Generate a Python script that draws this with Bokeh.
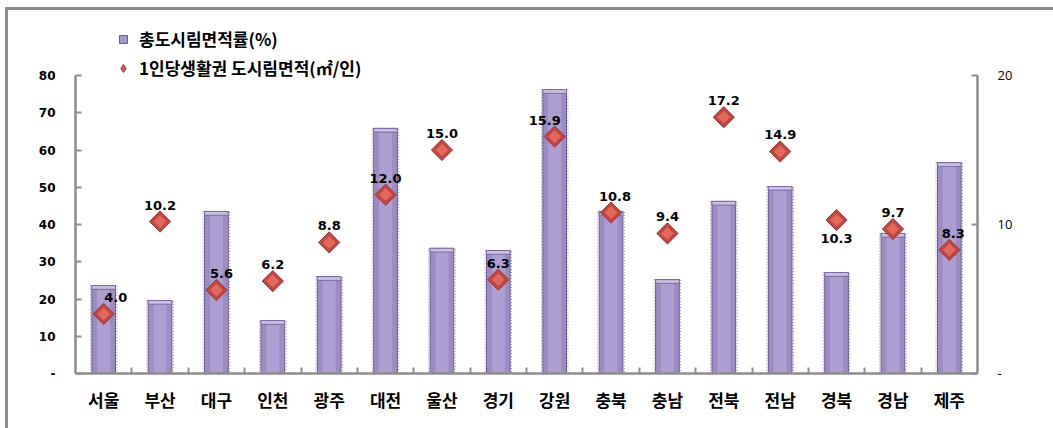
from bokeh.plotting import figure
from bokeh.models import (ColumnDataSource, Range1d, LinearAxis, FixedTicker,
                          Legend, LegendItem)
from bokeh.layouts import column
from bokeh.embed import file_html
from bokeh.resources import INLINE
from bokeh.core.properties import value
import math

# 시도별 도시림 현황
regions = ["서울", "부산", "대구", "인천", "광주", "대전", "울산", "경기",
           "강원", "충북", "충남", "전북", "전남", "경북", "경남", "제주"]
forest_ratio = [23.6, 19.6, 43.5, 14.2, 26.0, 65.8, 33.6, 33.0,
                76.2, 43.5, 25.2, 46.2, 50.2, 27.1, 37.6, 56.6]   # 총도시림면적률(%)
per_capita = [4.0, 10.2, 5.6, 6.2, 8.8, 12.0, 15.0, 6.3,
              15.9, 10.8, 9.4, 17.2, 14.9, 10.3, 9.7, 8.3]        # 1인당 생활권 도시림면적(㎡/인)
left_ticks = [0, 10, 20, 30, 40, 50, 60, 70, 80]
right_ticks = [0, 10, 20]

KR = "Noto Sans CJK KR"
NUM = "DejaVu Sans"
AXIS_GREY = "#8c8c8c"

n = len(regions)
xs = list(range(1, n + 1))
cap = 1.0  # bevel height on bar tops, in % units

# the plot frame reaches above the axes so the legend sits inside it
headroom = 358 / 298
left_max, right_max = 80, 20

# label placement: above the marker except where it would collide
below = {"경북"}
nudge = {"서울": 12, "강원": -10, "대구": 5, "충북": 4, "제주": 4}
lbl_dy = [14 if r in below else -12 for r in regions]
lbl_base = ["top" if r in below else "bottom" for r in regions]
lbl_dx = [nudge.get(r, 0) for r in regions]

src = ColumnDataSource(dict(
    x=xs, ratio=forest_ratio, body_top=[v - cap for v in forest_ratio],
    cap_bottom=[v - cap for v in forest_ratio], pc=per_capita,
    pc_txt=[f"{v:.1f}" for v in per_capita],
    dy=lbl_dy, dx=lbl_dx, base=lbl_base,
))

p = figure(width=1045, height=418, output_backend="svg", toolbar_location=None,
           x_range=Range1d(0.5, n + 0.5),
           y_range=Range1d(0, left_max * headroom),
           min_border_left=67, min_border_right=76, min_border_top=5,
           min_border_bottom=55)
p.outline_line_color = None
p.grid.visible = False
p.background_fill_color = "white"
p.border_fill_color = "white"
p.extra_y_ranges = {"right": Range1d(0, right_max * headroom)}

# bars: dotted shadow, outlined body, lighter centre strip and bevelled top
bw = 0.42
p.vbar(x="x", top="ratio", bottom=0, width=bw + 0.05, source=src,
       fill_color=None, line_color="#333333", line_alpha=0.55,
       line_dash="1 2", line_width=1)
p.vbar(x="x", top="ratio", bottom=0, width=bw, source=src,
       fill_color="#9d8cc4", line_color="#6a5a93", line_width=1)
p.vbar(x="x", top="body_top", bottom=0, width=bw * 0.55, source=src,
       fill_color="#ad9fd1", line_color=None)
p.vbar(x="x", top="ratio", bottom="cap_bottom", width=bw, source=src,
       fill_color="#cbc0e5", line_color="#7a6aa3", line_width=1)

# diamonds on the right axis
p.scatter(x="x", y="pc", source=src, y_range_name="right", marker="square",
          angle=math.pi / 4, size=15, fill_color="#c4453c",
          line_color="#8e3a48", line_width=1)
p.scatter(x="x", y="pc", source=src, y_range_name="right", marker="square",
          angle=math.pi / 4, size=9, fill_color="#e2695c", line_color=None)

p.text(x="x", y="pc", text="pc_txt", source=src, y_range_name="right",
       x_offset="dx", y_offset="dy", text_baseline="base", text_align="center",
       text_font=value(NUM), text_font_style="bold", text_font_size="13px",
       text_color="black")

# axes
xa = p.xaxis[0]
xa.ticker = FixedTicker(ticks=xs, minor_ticks=[x + 0.5 for x in xs[:-1]])
xa.major_label_overrides = {x: r for x, r in zip(xs, regions)}
xa.major_tick_line_color = None
xa.minor_tick_in = 6
xa.minor_tick_out = 0
xa.minor_tick_line_color = AXIS_GREY
xa.minor_tick_line_width = 2
xa.axis_line_color = AXIS_GREY
xa.axis_line_width = 2.5
xa.major_label_text_font = KR
xa.major_label_text_font_style = "bold"
xa.major_label_text_font_size = "17px"
xa.major_label_text_color = "black"
xa.major_label_standoff = 7

ya = p.yaxis[0]
ya.ticker = FixedTicker(ticks=left_ticks)
ya.bounds = (0, left_max)
ya.major_label_overrides = {0: "-"}
ya.major_tick_in = 6
ya.major_tick_out = 0
ya.minor_tick_line_color = None
ya.major_tick_line_color = AXIS_GREY
ya.major_tick_line_width = 2
ya.axis_line_color = AXIS_GREY
ya.axis_line_width = 2.5
ya.major_label_text_font = NUM
ya.major_label_text_font_style = "bold"
ya.major_label_text_font_size = "12px"
ya.major_label_text_color = "black"
ya.major_label_standoff = 20

ra = LinearAxis(y_range_name="right", ticker=FixedTicker(ticks=right_ticks),
                bounds=(0, right_max))
ra.major_label_overrides = {0: "-"}
ra.major_tick_in = 6
ra.major_tick_out = 0
ra.minor_tick_line_color = None
ra.major_tick_line_color = AXIS_GREY
ra.major_tick_line_width = 2
ra.axis_line_color = AXIS_GREY
ra.axis_line_width = 2.5
ra.major_label_text_font = "Open Sans"
ra.major_label_text_font_size = "13px"
ra.major_label_text_color = "black"
ra.major_label_standoff = 20
p.add_layout(ra, "right")

# legend swatches: small versions of the marks, parked outside the frame
swatch = ColumnDataSource(dict(x=[-10], y=[-10]))
lg_bar = p.scatter(x="x", y="y", source=swatch, marker="square", size=9,
                   fill_color="#a696cb", line_color="#6a5a93")
lg_dia = p.scatter(x="x", y="y", source=swatch, marker="diamond", size=9,
                   fill_color="#d9574b", line_color="#8e3a48")
legend = Legend(items=[LegendItem(label="총도시림면적률(%)", renderers=[lg_bar]),
                       LegendItem(label="1인당생활권 도시림면적(㎡/인)", renderers=[lg_dia])],
                location=(38, 293), orientation="vertical",
                glyph_width=20, glyph_height=20, label_height=18, spacing=4,
                label_standoff=6, padding=0, margin=0,
                border_line_color=None, background_fill_alpha=0,
                label_text_font=KR, label_text_font_style="bold",
                label_text_font_size="17px", label_text_color="black")
p.add_layout(legend, "center")

page = column(p, styles={"border-top": "3px solid #8d8d8d",
                         "border-left": "3px solid #8d8d8d",
                         "margin-top": "7px", "margin-left": "5px"})

open("out.html", "w").write(file_html(page, INLINE))
